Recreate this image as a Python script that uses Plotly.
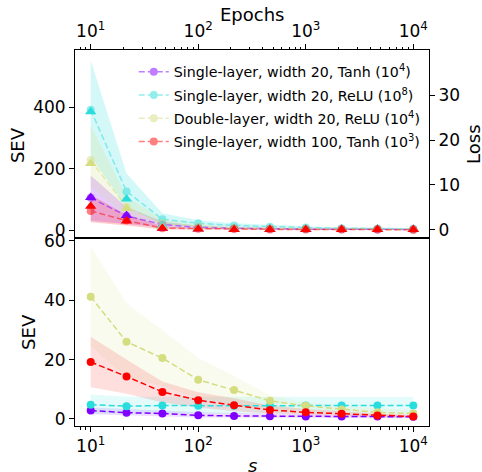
import plotly.graph_objects as go

# ---------------- data ----------------
s = [10, 21.54, 46.42, 100, 215.4, 464.2, 1000, 2154, 4642, 10000]

names = [
    "Single-layer, width 20, Tanh (10<sup>4</sup>)",
    "Single-layer, width 20, ReLU (10<sup>8</sup>)",
    "Double-layer, width 20, ReLU (10<sup>4</sup>)",
    "Single-layer, width 100, Tanh (10<sup>3</sup>)",
]
colors = ["#8000ff", "#2adddd", "#d4dd80", "#ff0000"]
rgb = ["128,0,255", "42,221,221", "212,221,128", "255,0,0"]

# top panel: SEV vs epochs
sev_ep_tanh20 = [105, 46, 18, 9, 6, 4, 3, 2.5, 2, 2]
sev_ep_relu20 = [392, 126, 35, 22, 15, 11, 8, 6, 5, 4]
sev_ep_double = [228, 74, 22, 12, 7, 5, 4, 3, 3, 2]
sev_ep_tanh100 = [62, 31, 6, 4, 3, 2, 2, 1.5, 1.5, 1]

sev_ep_tanh20_hi = [178, 75, 28, 14, 9, 7, 5, 4, 3, 3]
sev_ep_tanh20_lo = [30, 20, 8, 4, 3, 2, 1.5, 1, 1, 1]
sev_ep_relu20_hi = [553, 184, 55, 32, 22, 16, 12, 9, 8, 7]
sev_ep_relu20_lo = [240, 75, 20, 13, 9, 6, 5, 4, 3, 2]
sev_ep_double_hi = [340, 110, 35, 18, 11, 8, 6, 5, 4, 3]
sev_ep_double_lo = [140, 45, 12, 7, 4, 3, 2, 2, 1.5, 1]
sev_ep_tanh100_hi = [115, 50, 12, 7, 5, 4, 3, 3, 2, 2]
sev_ep_tanh100_lo = [25, 15, 2, 1, 1, 1, 0.5, 0.5, 0.5, 0.5]

loss_tanh20 = [7.2, 3.2, 0.4, 0.2, 0.2, 0.1, 0.1, 0.1, 0.1, 0.1]
loss_relu20 = [26.3, 6.9, 0.9, 0.4, 0.3, 0.2, 0.2, 0.1, 0.1, 0.1]
loss_double = [14.8, 4.8, 0.6, 0.3, 0.2, 0.1, 0.1, 0.1, 0.1, 0.1]
loss_tanh100 = [5.3, 2.0, 0.4, 0.2, 0.1, 0.1, 0.1, 0.1, 0.1, 0.1]

# bottom panel: SEV vs s
sev_s_tanh20 = [2.8, 2.1, 1.8, 1.2, 1.0, 0.9, 0.8, 0.8, 0.8, 0.7]
sev_s_relu20 = [4.8, 4.3, 4.5, 4.4, 4.4, 4.4, 4.5, 4.5, 4.5, 4.5]
sev_s_double = [41.2, 26.0, 20.5, 13.2, 9.7, 6.1, 4.4, 3.2, 2.2, 1.8]
sev_s_tanh100 = [19.2, 14.3, 9.1, 6.3, 4.6, 3.0, 2.2, 1.7, 1.1, 0.8]

sev_s_tanh20_hi = [3.8, 3.2, 2.8, 2.2, 2.0, 1.8, 1.6, 1.5, 1.5, 1.4]
sev_s_tanh20_lo = [1.6, 1.2, 0.9, 0.5, 0.4, 0.3, 0.2, 0.2, 0.2, 0.2]
sev_s_relu20_hi = [8.2, 7.5, 7.5, 7.5, 7.4, 7.4, 7.4, 7.4, 7.4, 7.4]
sev_s_relu20_lo = [1.8, 1.8, 1.8, 1.8, 1.8, 1.8, 1.8, 1.8, 1.8, 1.8]
sev_s_double_hi = [58.3, 39, 30, 20.5, 14.5, 8, 5.5, 4.5, 3.5, 3]
sev_s_double_lo = [24.5, 14, 11, 7, 5, 3.5, 2.5, 2, 1.2, 1]
sev_s_tanh100_hi = [27.7, 20, 12.6, 9, 7, 4.5, 3.3, 2.5, 1.8, 1.4]
sev_s_tanh100_lo = [10.7, 8.5, 5.5, 3.8, 2.6, 1.8, 1.3, 1.0, 0.6, 0.4]

x_tickvals = [10, 100, 1000, 10000]
x_ticktext = ["10<sup>1</sup>", "10<sup>2</sup>", "10<sup>3</sup>", "10<sup>4</sup>"]
minor_vals = [m * 10 ** k for k in range(0, 4) for m in range(2, 10)]

top_mean = [sev_ep_tanh20, sev_ep_relu20, sev_ep_double, sev_ep_tanh100]
top_hi = [sev_ep_tanh20_hi, sev_ep_relu20_hi, sev_ep_double_hi, sev_ep_tanh100_hi]
top_lo = [sev_ep_tanh20_lo, sev_ep_relu20_lo, sev_ep_double_lo, sev_ep_tanh100_lo]
losses = [loss_tanh20, loss_relu20, loss_double, loss_tanh100]
bot_mean = [sev_s_tanh20, sev_s_relu20, sev_s_double, sev_s_tanh100]
bot_hi = [sev_s_tanh20_hi, sev_s_relu20_hi, sev_s_double_hi, sev_s_tanh100_hi]
bot_lo = [sev_s_tanh20_lo, sev_s_relu20_lo, sev_s_double_lo, sev_s_tanh100_lo]

fig = go.Figure()
DASH = "6px,3px"

# bands
for i in range(4):
    fig.add_trace(go.Scatter(
        x=s + s[::-1], y=top_hi[i] + top_lo[i][::-1], xaxis="x2", yaxis="y2",
        fill="toself", fillcolor=f"rgba({rgb[i]},0.2)", line=dict(width=0),
        mode="lines", showlegend=False, hoverinfo="skip"))
    fig.add_trace(go.Scatter(
        x=s + s[::-1], y=bot_hi[i] + bot_lo[i][::-1], xaxis="x", yaxis="y",
        fill="toself", fillcolor=f"rgba({rgb[i]},0.13)", line=dict(width=0),
        mode="lines", showlegend=False, hoverinfo="skip"))

# top SEV lines (legend)
for i in range(4):
    fig.add_trace(go.Scatter(
        x=s, y=top_mean[i], xaxis="x2", yaxis="y2", name=names[i],
        legendgroup=f"g{i}", mode="lines+markers", opacity=0.5,
        line=dict(color=colors[i], width=1.5, dash=DASH),
        marker=dict(color=colors[i], size=8, symbol="circle")))

# loss triangles
for i in range(4):
    fig.add_trace(go.Scatter(
        x=s, y=losses[i], xaxis="x2", yaxis="y3", mode="markers",
        legendgroup=f"g{i}", showlegend=False,
        marker=dict(color=colors[i], size=10, symbol="triangle-up")))

# bottom SEV lines
for i in range(4):
    fig.add_trace(go.Scatter(
        x=s, y=bot_mean[i], xaxis="x", yaxis="y", mode="lines+markers",
        legendgroup=f"g{i}", showlegend=False,
        line=dict(color=colors[i], width=1.5, dash=DASH),
        marker=dict(color=colors[i], size=8, symbol="circle")))

FONT = "DejaVu Sans"
tickfont = dict(family=FONT, size=17, color="black")
titlefont = dict(family=FONT, size=18, color="black")
xrange = [0.854, 4.146]
common_x = dict(type="log", range=xrange, tickmode="array", tickvals=x_tickvals,
                ticktext=x_ticktext, ticks="outside", ticklen=5, tickwidth=1,
                tickcolor="black", showline=True, linecolor="black", linewidth=1,
                mirror=True, showgrid=False, zeroline=False, tickfont=tickfont,
                automargin=False,
                minor=dict(tickmode="array", tickvals=minor_vals, ticks="outside",
                           ticklen=2.5, tickwidth=0.8, tickcolor="black", showgrid=False))
common_y = dict(ticks="outside", ticklen=5, tickwidth=1, tickcolor="black",
                showline=True, linecolor="black", linewidth=1, mirror=True,
                showgrid=False, zeroline=False, tickfont=tickfont, automargin=False)

annotations = [
    dict(text="Epochs", x=0.5, y=1.0957, xref="paper", yref="paper",
         xanchor="center", yanchor="middle", showarrow=False, font=titlefont),
    dict(text="<i>s</i>", x=0.5, y=-0.104, xref="paper", yref="paper",
         xanchor="center", yanchor="middle", showarrow=False, font=titlefont),
    dict(text="SEV", x=-0.164, y=0.747, xref="paper", yref="paper", textangle=-90,
         xanchor="center", yanchor="middle", showarrow=False, font=titlefont),
    dict(text="SEV", x=-0.133, y=0.25, xref="paper", yref="paper", textangle=-90,
         xanchor="center", yanchor="middle", showarrow=False, font=titlefont),
    dict(text="Loss", x=1.124, y=0.75, xref="paper", yref="paper", textangle=-90,
         xanchor="center", yanchor="middle", showarrow=False, font=titlefont),
]

fig.update_layout(
    width=482, height=472,
    margin=dict(l=75, r=53, t=50, b=46, autoexpand=False),
    paper_bgcolor="white", plot_bgcolor="rgba(0,0,0,0)",
    font=dict(family=FONT, color="black"),
    xaxis=dict(**common_x, anchor="y", side="bottom"),
    xaxis2=dict(**common_x, anchor="y2", side="top", matches="x"),
    yaxis=dict(**common_y, domain=[0, 0.5], anchor="x", range=[-2.4, 61],
               tickvals=[0, 20, 40, 60]),
    yaxis2=dict(**common_y, domain=[0.5, 1], anchor="x2", range=[-26, 587],
                tickvals=[0, 200, 400]),
    yaxis3=dict(ticks="outside", ticklen=5, tickwidth=1, tickcolor="black",
                showline=True, linecolor="black", linewidth=1, showgrid=False,
                zeroline=False, tickfont=tickfont, overlaying="y2", anchor="x2",
                side="right", range=[-1.78, 40], tickvals=[0, 10, 20, 30],
                automargin=False),
    legend=dict(x=0.166, y=0.984, xanchor="left", yanchor="top",
                bgcolor="rgba(0,0,0,0)", font=dict(family=FONT, size=14.2, color="black"),
                traceorder="grouped", tracegroupgap=1.8, itemwidth=30),
    annotations=annotations,
    showlegend=True,
)

# remove the default 8px page margin so the figure sits at the window's corner
fig.write_html("out.html", config={"displayModeBar": False},
               post_script="document.body.style.margin='0px';")
